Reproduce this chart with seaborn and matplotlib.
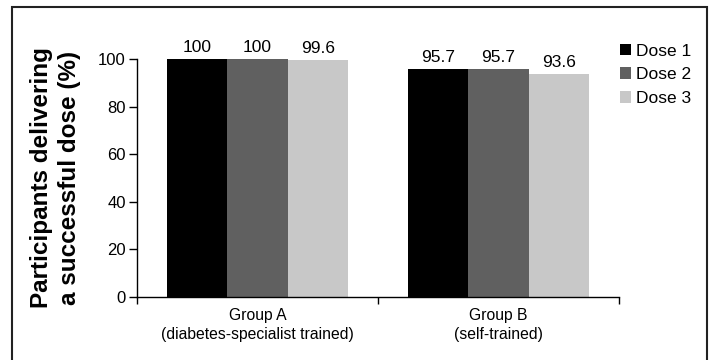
import matplotlib
matplotlib.use("Agg")
import matplotlib.pyplot as plt
from matplotlib.patches import Rectangle, Patch
from matplotlib.ticker import FixedLocator
import seaborn as sns
import pandas as pd

groups = ["Group A\n(diabetes-specialist trained)", "Group B\n(self-trained)"]
doses = ["Dose 1", "Dose 2", "Dose 3"]
group_a = [100, 100, 99.6]
group_b = [95.7, 95.7, 93.6]
colors = ["#000000", "#606060", "#c8c8c8"]

df = pd.DataFrame({
    "group": [groups[0]] * 3 + [groups[1]] * 3,
    "dose": doses * 2,
    "value": group_a + group_b,
})

sns.set_style("white")
plt.rcParams["font.family"] = ["Liberation Sans", "DejaVu Sans"]
plt.rcParams["text.color"] = "black"

fig = plt.figure(figsize=(7.11, 3.6), dpi=100)
ax = fig.add_axes([137 / 711, 1 - 297 / 360, (619 - 137) / 711, (297 - 59) / 360])

sns.barplot(data=df, x="group", y="value", hue="dose", order=groups,
            hue_order=doses, palette=colors, saturation=1, width=0.75,
            linewidth=0, ax=ax, legend=False)

for cont in ax.containers:
    ax.bar_label(cont, labels=[f"{v:g}" for v in cont.datavalues],
                 padding=3, fontsize=12.5, color="black")

ax.set_ylim(0, 100)
ax.set_xlim(-0.5, 1.5)
ax.set_yticks([0, 20, 40, 60, 80, 100])
ax.tick_params(axis="y", direction="out", length=6, width=1, labelsize=12,
               left=True, pad=2, colors="black")
ax.tick_params(axis="x", which="major", length=0, labelsize=11.3, pad=8,
               colors="black")
for lbl in ax.get_xticklabels():
    lbl.set_linespacing(1.35)
ax.xaxis.set_minor_locator(FixedLocator([-0.5, 0.5, 1.5]))
ax.tick_params(axis="x", which="minor", direction="out", length=5, width=1,
               bottom=True, color="black")
for s in ["top", "right"]:
    ax.spines[s].set_visible(False)
for s in ["left", "bottom"]:
    ax.spines[s].set_color("black")
    ax.spines[s].set_linewidth(1)
ax.set_xlabel("")
ax.set_ylabel("Participants delivering\na successful dose (%)",
              fontsize=17.5, fontweight="bold", labelpad=12, linespacing=1.3,
              color="black")

handles = [Patch(facecolor=c, edgecolor="none") for c in colors]
fig.legend(handles, doses, loc="upper left", bbox_to_anchor=(604 / 711, 1 - 28 / 360),
           frameon=False, fontsize=12.5, handlelength=0.64, handleheight=0.64,
           handletextpad=0.3, labelspacing=0.5, labelcolor="black")

fig.patches.append(Rectangle((12 / 711, -0.05), (707 - 12) / 711, 1.05 - 7 / 360,
                             transform=fig.transFigure, fill=False,
                             edgecolor="#222222", linewidth=1.5))

fig.savefig("out.png", dpi=100)
